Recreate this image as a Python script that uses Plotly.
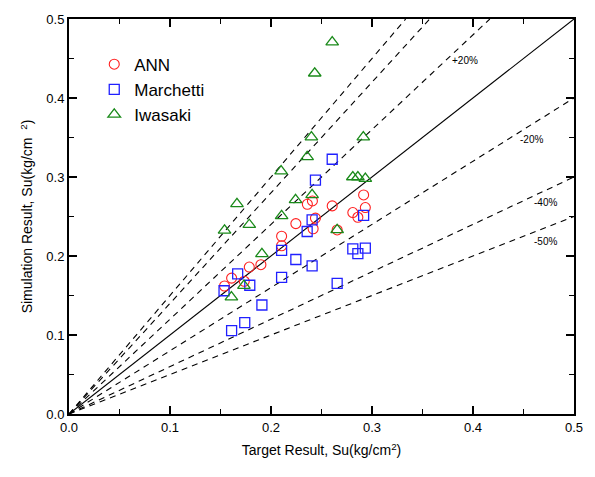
import plotly.graph_objects as go

ann_x = [0.154, 0.161, 0.1735, 0.1785, 0.190, 0.2105, 0.2105, 0.2246, 0.236, 0.241, 0.244, 0.2417, 0.2606, 0.2655, 0.281, 0.286, 0.2917, 0.2934]
ann_y = [0.162, 0.172, 0.168, 0.186, 0.189, 0.225, 0.213, 0.241, 0.2655, 0.2697, 0.248, 0.2345, 0.2634, 0.233, 0.255, 0.249, 0.2773, 0.2613]

mar_x = [0.1535, 0.161, 0.167, 0.174, 0.179, 0.191, 0.2105, 0.2105, 0.2246, 0.2407, 0.2358, 0.2407, 0.244, 0.2606, 0.2655, 0.281, 0.286, 0.2934, 0.2917]
mar_y = [0.156, 0.1055, 0.1775, 0.1156, 0.163, 0.138, 0.207, 0.173, 0.1956, 0.1876, 0.231, 0.2458, 0.296, 0.3225, 0.1654, 0.209, 0.203, 0.210, 0.2513]

iwa_x = [0.1608, 0.154, 0.1663, 0.1732, 0.1785, 0.191, 0.2105, 0.21, 0.2243, 0.2358, 0.2407, 0.24, 0.2433, 0.2606, 0.2655, 0.281, 0.286, 0.2934, 0.2914]
iwa_y = [0.148, 0.2324, 0.266, 0.1625, 0.2396, 0.2027, 0.2509, 0.3074, 0.271, 0.3254, 0.2773, 0.3505, 0.4313, 0.4707, 0.233, 0.300, 0.300, 0.298, 0.3505]

ratios = [1.5, 1.4, 1.2, 1.0, 0.8, 0.6, 0.5]
ratio_labels = ["", "", "+20%", "", "-20%", "-40%", "-50%"]
label_x = [0, 0, 0.392, 0, 0.458, 0.472, 0.472]
label_y = [0, 0, 0.448, 0, 0.347, 0.268, 0.218]

AX_MAX = 0.5
FONT = "Liberation Sans, Arial"
fig = go.Figure()

for r in ratios:
    xe = min(AX_MAX, AX_MAX / r)
    fig.add_trace(go.Scatter(
        x=[0, xe], y=[0, xe * r], mode="lines",
        line=dict(color="black", width=1.1, dash="solid" if r == 1.0 else "6px,5px"),
        showlegend=False, hoverinfo="skip"))

fig.add_trace(go.Scatter(x=ann_x, y=ann_y, mode="markers", name="ANN",
                         marker=dict(symbol="circle-open", size=10, color="#ff2020", line=dict(width=1.1))))
fig.add_trace(go.Scatter(x=mar_x, y=mar_y, mode="markers", name="Marchetti",
                         marker=dict(symbol="square-open", size=10, color="#2020ff", line=dict(width=1.3))))
fig.add_trace(go.Scatter(x=iwa_x, y=iwa_y, mode="markers", name="Iwasaki",
                         marker=dict(symbol="triangle-up-open", size=11, color="#1a8a1a", line=dict(width=1.3))))

for t, lx, ly in zip(ratio_labels, label_x, label_y):
    if t:
        fig.add_annotation(x=lx, y=ly, text=t, showarrow=False,
                           font=dict(family=FONT, size=10, color="black"))

axis_common = dict(
    range=[0, 0.5], dtick=0.1, tick0=0, ticks="inside", ticklen=8, tickwidth=1.5,
    tickcolor="black", showline=True, linecolor="black", linewidth=2, mirror="allticks",
    showgrid=False, zeroline=False, tickformat=".1f",
    minor=dict(dtick=0.05, ticks="inside", ticklen=5, tickwidth=1.2, tickcolor="black"),
    tickfont=dict(family=FONT, size=13, color="black"),
)

fig.update_xaxes(**axis_common,
                 title=dict(text="Target Result, Su(kg/cm<sup>2</sup>)",
                            font=dict(family=FONT, size=14, color="black"), standoff=12))
fig.update_yaxes(**axis_common,
                 title=dict(text="Simulation Result, Su(kg/cm  <sup>2</sup>)",
                            font=dict(family=FONT, size=14, color="black"), standoff=10))

fig.update_layout(
    width=595, height=477,
    margin=dict(l=69, r=17, t=16, b=63),
    plot_bgcolor="white", paper_bgcolor="white",
    legend=dict(x=0.05, y=0.93, xanchor="left", yanchor="top", bgcolor="rgba(0,0,0,0)",
                font=dict(family=FONT, size=17, color="black"),
                tracegroupgap=0, itemwidth=30),
)

fig.write_html("out.html")
